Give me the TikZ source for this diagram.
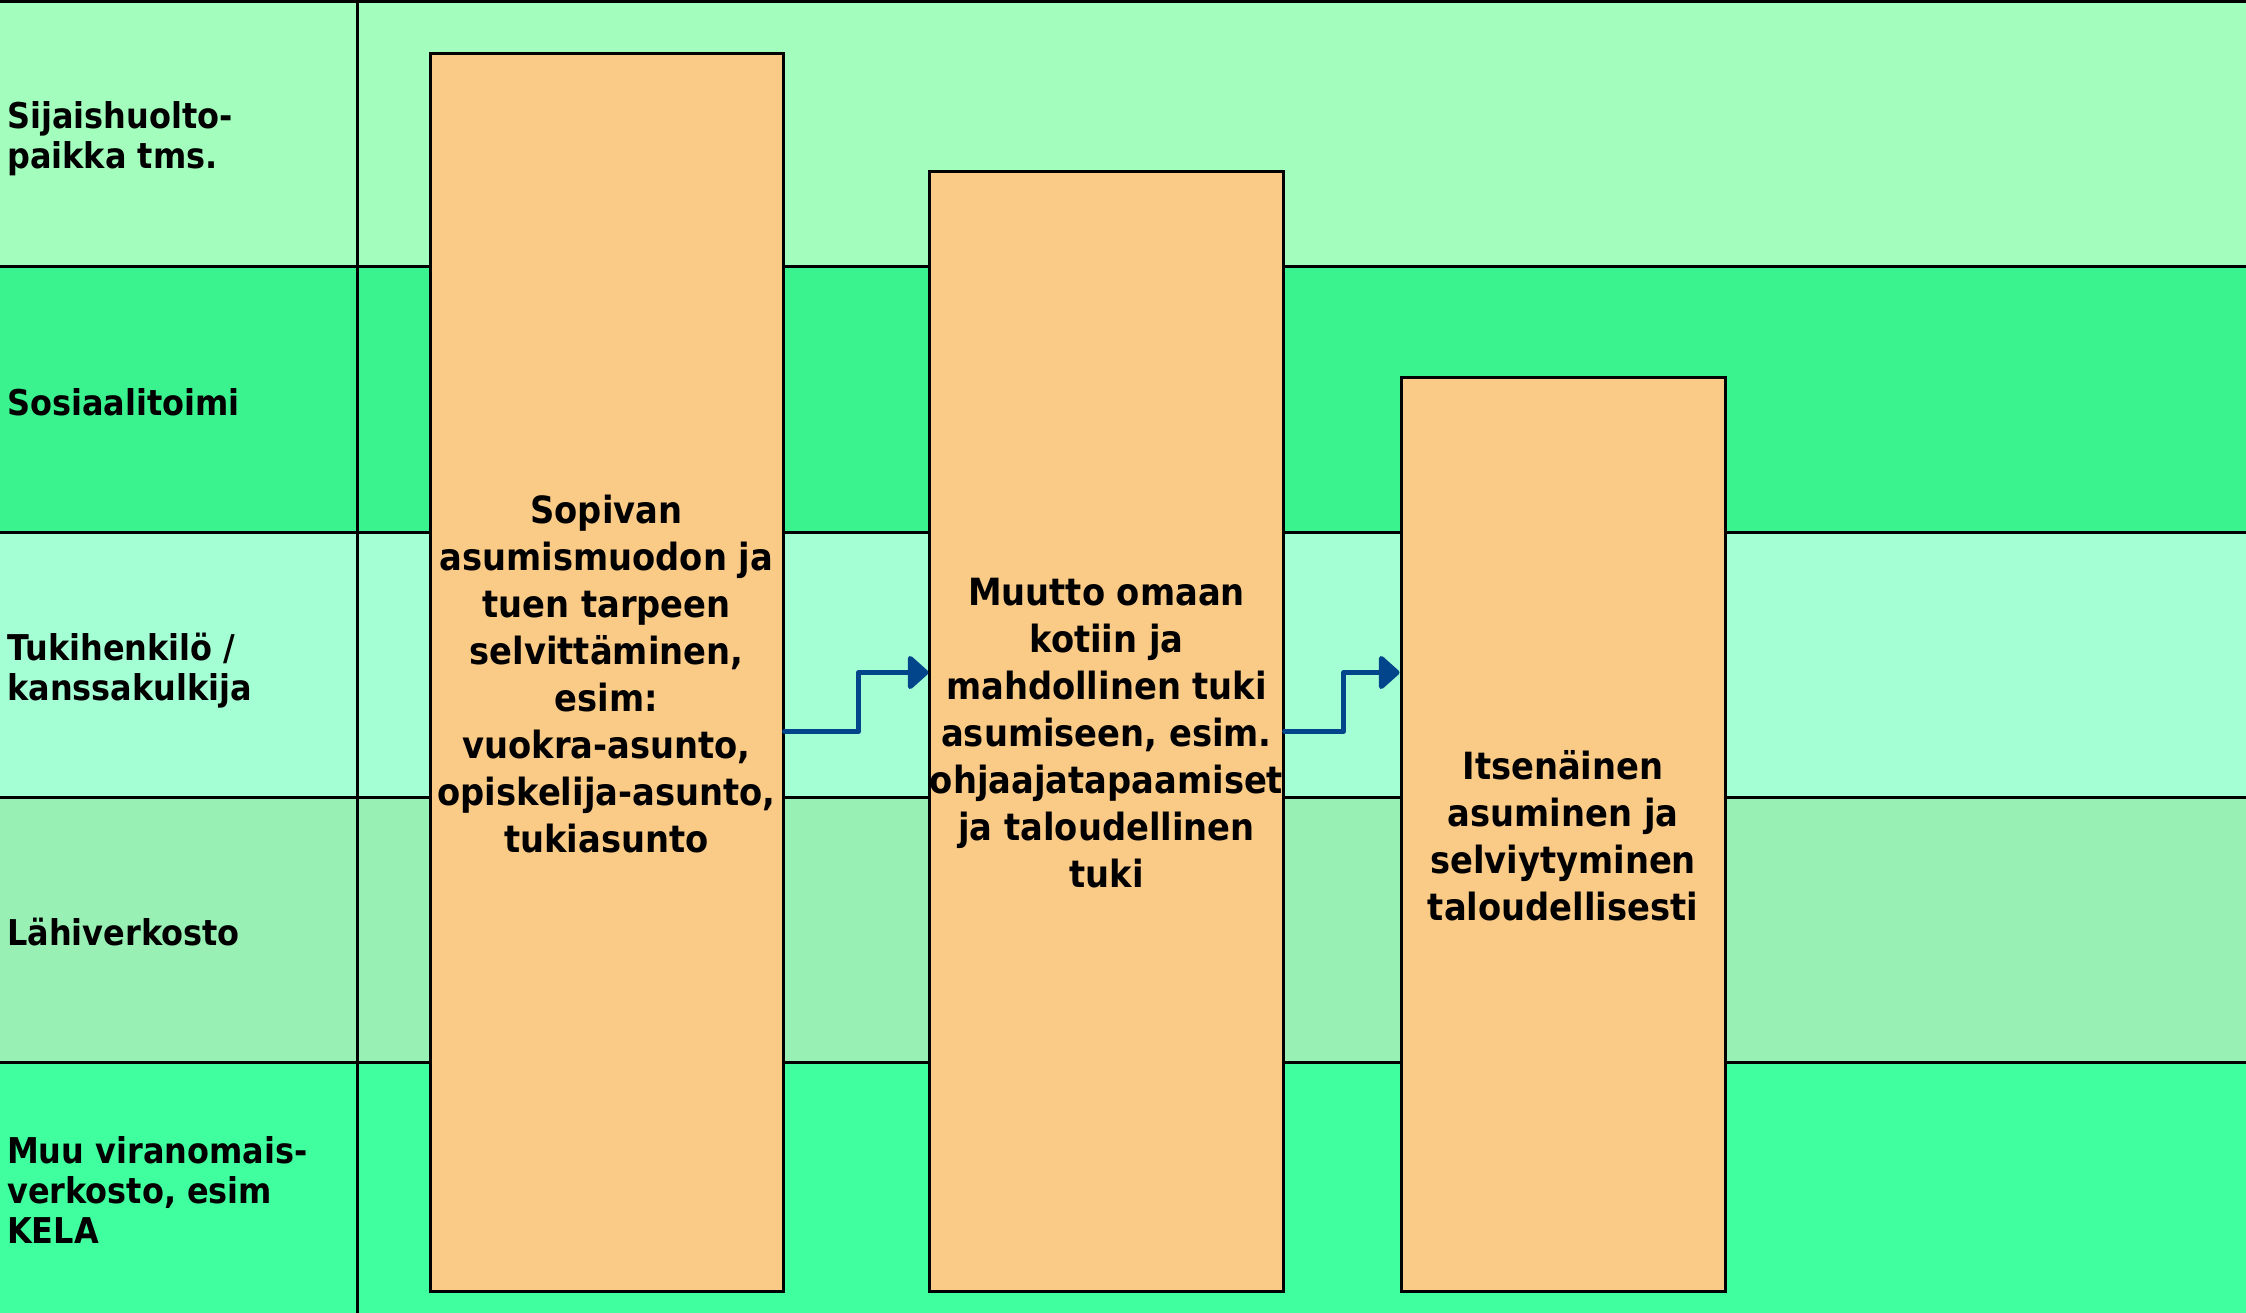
\documentclass[tikz,border=0pt]{standalone}
\usepackage{fontspec}
\setmainfont{DejaVu Sans}[FakeStretch=0.9]
\usetikzlibrary{arrows.meta}
\definecolor{rowA}{RGB}{163,254,190}
\definecolor{rowB}{RGB}{58,242,142}
\definecolor{rowC}{RGB}{165,255,212}
\definecolor{rowD}{RGB}{153,240,180}
\definecolor{rowE}{RGB}{64,255,158}
\definecolor{boxc}{RGB}{250,202,135}
\definecolor{flowc}{RGB}{3,69,138}
\newcommand{\firstline}{\rule{0pt}{45pt}}
\begin{document}
\begin{tikzpicture}[x=1pt,y=-1pt,
  grid/.style={draw=black,line width=3pt},
  lbl/.style={anchor=west,align=left,inner sep=0pt,font=\bfseries\fontsize{35.5}{40}\selectfont},
  stage/.style={draw=black,line width=3pt,fill=boxc,inner sep=0pt,align=center,
    font=\bfseries\fontsize{37.5}{47}\selectfont},
  flow/.style={draw=flowc,line width=5pt,line join=round,line cap=round,
    -{Triangle[length=22pt,width=38pt,round]}}]
\useasboundingbox (0,0) rectangle (2246,1313);
% lanes
\fill[rowA] (0,0) rectangle (2246,267);
\fill[rowB] (0,267) rectangle (2246,532);
\fill[rowC] (0,532) rectangle (2246,797);
\fill[rowD] (0,797) rectangle (2246,1062);
\fill[rowE] (0,1062) rectangle (2246,1313);
\draw[grid] (0,1.5) -- (2246,1.5);
\draw[grid] (0,267) -- (2246,267);
\draw[grid] (0,532) -- (2246,532);
\draw[grid] (0,797) -- (2246,797);
\draw[grid] (0,1062) -- (2246,1062);
\draw[grid] (357,0) -- (357,1313);
% lane labels
\node[lbl] (l1) at (7,140.5) {\strut Sijaishuolto-\\\strut paikka tms.};
\node[lbl] (l2) at (7,407) {\strut Sosiaalitoimi};
\node[lbl] (l3) at (7,672) {\strut Tukihenkilö /\\\strut kanssakulkija};
\node[lbl] (l4) at (7,937) {\strut Lähiverkosto};
\node[lbl] (l5) at (7,1195.5) {\strut Muu viranomais-\\\strut verkosto, esim\\\strut KELA};
% stages
\node[stage,minimum width=353pt,minimum height=1237pt] (b1) at (606.5,672.5)
  {\firstline Sopivan\\\strut asumismuodon ja\\\strut tuen tarpeen\\\strut selvittäminen,\\\strut esim:\\\strut vuokra-asunto,\\\strut opiskelija-asunto,\\\strut tukiasunto};
\node[stage,minimum width=353pt,minimum height=1119pt] (b2) at (1106.5,731.5)
  {\firstline Muutto omaan\\\strut kotiin ja\\\strut mahdollinen tuki\\\strut asumiseen, esim.\\\strut ohjaajatapaamiset\\\strut ja taloudellinen\\\strut tuki};
\node[stage,minimum width=324pt,minimum height=913pt] (b3) at (1563,834.5)
  {\firstline Itsenäinen\\\strut asuminen ja\\\strut selviytyminen\\\strut taloudellisesti};
% flows
\draw[flow] (b1.east |- b2.west) -- ++(74,0) |- (b2.west |- b1.east);
\draw[flow] (b2.east) -- ++(59,0) |- (b3.west |- b1.east);
\end{tikzpicture}
\end{document}
